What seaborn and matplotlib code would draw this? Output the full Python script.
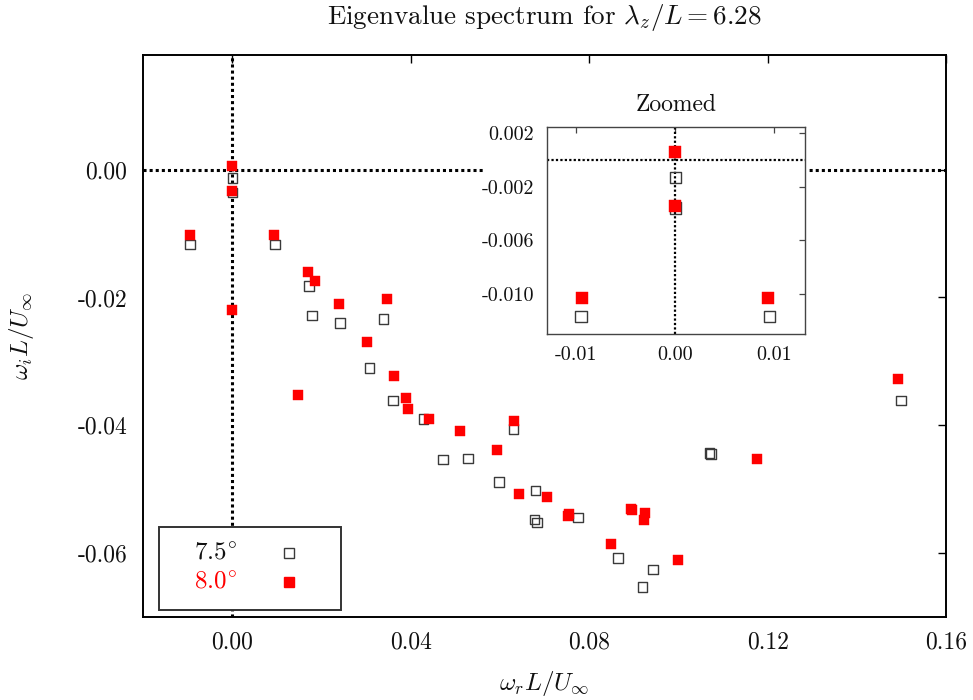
import matplotlib
matplotlib.use("Agg")
import matplotlib.pyplot as plt
import seaborn as sns
import pandas as pd
from matplotlib.patches import Rectangle

# ---- data ----
x_75 = [0.0, 0.0, -0.0095, 0.0095, 0.0171, 0.0178, 0.0241, 0.0339, 0.0307,
        0.0360, 0.0428, 0.0472, 0.0528, 0.0630, 0.0598, 0.0679, 0.0677,
        0.0682, 0.0775, 0.0864, 0.0943, 0.0919, 0.1069, 0.1072, 0.1498]
y_75 = [-0.0013, -0.0036, -0.0117, -0.0117, -0.0182, -0.0228, -0.0240,
        -0.0234, -0.0310, -0.0361, -0.0390, -0.0453, -0.0452, -0.0406,
        -0.0488, -0.0502, -0.0547, -0.0552, -0.0544, -0.0607, -0.0625,
        -0.0653, -0.0443, -0.0445, -0.0361]

x_80 = [0.0, 0.0, -0.0094, 0.0094, 0.0169, 0.0185, 0.0, 0.0239, 0.0346,
        0.0302, 0.0362, 0.0147, 0.0389, 0.0394, 0.0441, 0.0509, 0.0631,
        0.0593, 0.0642, 0.0706, 0.0754, 0.0752, 0.0893, 0.0896, 0.0924,
        0.0922, 0.0849, 0.0999, 0.1176, 0.1492]
y_80 = [0.0006, -0.0034, -0.0103, -0.0103, -0.0160, -0.0174, -0.0220,
        -0.0210, -0.0202, -0.0270, -0.0322, -0.0352, -0.0357, -0.0374,
        -0.0390, -0.0408, -0.0393, -0.0438, -0.0507, -0.0512, -0.0539,
        -0.0541, -0.0531, -0.0532, -0.0537, -0.0548, -0.0586, -0.0611,
        -0.0453, -0.0327]

labels = ["7.5°", "8.0°"]
main_xticks = [0.00, 0.04, 0.08, 0.12, 0.16]
main_xticklabels = ["0.00", "0.04", "0.08", "0.12", "0.16"]
main_yticks = [0.00, -0.02, -0.04, -0.06]
main_yticklabels = ["0.00", "-0.02", "-0.04", "-0.06"]
inset_xticks = [-0.01, 0.00, 0.01]
inset_xticklabels = ["-0.01", "0.00", "0.01"]
inset_yticks = [0.002, -0.002, -0.006, -0.010]
inset_yticklabels = ["0.002", "-0.002", "-0.006", "-0.010"]

df75 = pd.DataFrame({"x": x_75, "y": y_75})
df80 = pd.DataFrame({"x": x_80, "y": y_80})

sns.set_theme(style="white")
plt.rcParams.update({
    "font.family": "serif",
    "font.serif": ["cmr10"],
    "mathtext.fontset": "cm",
    "axes.unicode_minus": False,
    "axes.formatter.use_mathtext": True,
})

TXT = "#111111"
RED = "#ff0000"
EDGE = "#3a3a3a"

fig = plt.figure(figsize=(9.73, 7.0), dpi=100)
fig.patch.set_facecolor("white")
ax = fig.add_axes([0.1467, 0.1181, 0.8259, 0.8033])

# zero lines
ax.axvline(0, color="black", lw=2.2, ls=(0, (1, 1)), zorder=1)
ax.axhline(0, color="black", lw=2.2, ls=(0, (1, 1)), zorder=1)

sns.scatterplot(data=df75, x="x", y="y", ax=ax, marker="s", s=48,
                facecolor="none", edgecolor=EDGE, linewidth=1.0, zorder=3)
sns.scatterplot(data=df80, x="x", y="y", ax=ax, marker="s", s=52,
                color=RED, edgecolor=RED, linewidth=0.3, zorder=4)

ax.set_xlim(-0.0201, 0.1600)
ax.set_ylim(-0.0700, 0.0179)
ax.set_xticks(main_xticks)
ax.set_xticklabels(main_xticklabels)
ax.set_yticks(main_yticks)
ax.set_yticklabels(main_yticklabels)
ax.tick_params(direction="in", length=6, width=1.0, color="black",
               top=True, right=True, labelsize=17, labelcolor=TXT)
ax.tick_params(axis="x", pad=10)
ax.tick_params(axis="y", pad=11)
for sp in ax.spines.values():
    sp.set_color("black")
    sp.set_linewidth(1.4)
    sp.set_visible(True)

ax.set_xlabel(r"$\omega_r L/U_\infty$", fontsize=18, color=TXT, labelpad=11)
ax.set_ylabel(r"$\omega_i L/U_\infty$", fontsize=18, color=TXT, labelpad=30)
ax.set_title(r"Eigenvalue spectrum for $\lambda_z/L = 6.28$", fontsize=19.5,
             color=TXT, pad=22)

# legend box (manual, gnuplot style)
lx0, lx1, ly0, ly1 = 0.0203, 0.2468, 0.013, 0.1606
ax.add_patch(Rectangle((lx0, ly0), lx1 - lx0, ly1 - ly0, transform=ax.transAxes,
                       facecolor="white", edgecolor="#333333", lw=1.4, zorder=6))
ax.text(0.1173, 0.1144, r"$7.5^{\circ}$", transform=ax.transAxes, ha="right",
        va="center", fontsize=18, color=TXT, zorder=7)
ax.text(0.1173, 0.0628, r"$8.0^{\circ}$", transform=ax.transAxes, ha="right",
        va="center", fontsize=18, color=RED, zorder=7)
ax.plot([0.1822], [0.1144], transform=ax.transAxes, marker="s", ms=7,
        mfc="none", mec=EDGE, mew=1.0, ls="none", zorder=7)
ax.plot([0.1822], [0.0628], transform=ax.transAxes, marker="s", ms=7,
        mfc=RED, mec=RED, ls="none", zorder=7)

# white backdrop behind the inset
fig.patches.append(Rectangle((0.4964, 0.4714), 0.334, 0.407,
                             transform=fig.transFigure, facecolor="white",
                             edgecolor="none", zorder=5))

# inset
axi = fig.add_axes([0.5619, 0.5229, 0.2655, 0.2953], zorder=10)
axi.set_facecolor("white")
axi.axvline(0, color="black", lw=1.6, ls=(0, (1, 1)), zorder=1)
axi.axhline(0, color="black", lw=1.6, ls=(0, (1, 1)), zorder=1)
sns.scatterplot(data=df75, x="x", y="y", ax=axi, marker="s", s=72,
                facecolor="none", edgecolor=EDGE, linewidth=1.0, zorder=3)
sns.scatterplot(data=df80, x="x", y="y", ax=axi, marker="s", s=75,
                color=RED, edgecolor=RED, linewidth=0.3, zorder=4)
axi.set_xlim(-0.0130, 0.0131)
axi.set_ylim(-0.0130, 0.00245)
axi.set_xticks(inset_xticks)
axi.set_xticklabels(inset_xticklabels)
axi.set_yticks(inset_yticks)
axi.set_yticklabels(inset_yticklabels)
axi.tick_params(direction="in", length=4, width=0.9, color="#444444",
                top=True, right=True, labelsize=14.5, labelcolor=TXT)
axi.tick_params(axis="x", pad=9)
axi.tick_params(axis="y", pad=9)
axi.set_xlabel("")
axi.set_ylabel("")
for sp in axi.spines.values():
    sp.set_color("#444444")
    sp.set_linewidth(1.0)
    sp.set_visible(True)
axi.set_title("Zoomed", fontsize=17, color=TXT, pad=12)

fig.savefig("out.png", dpi=100, facecolor="white")
